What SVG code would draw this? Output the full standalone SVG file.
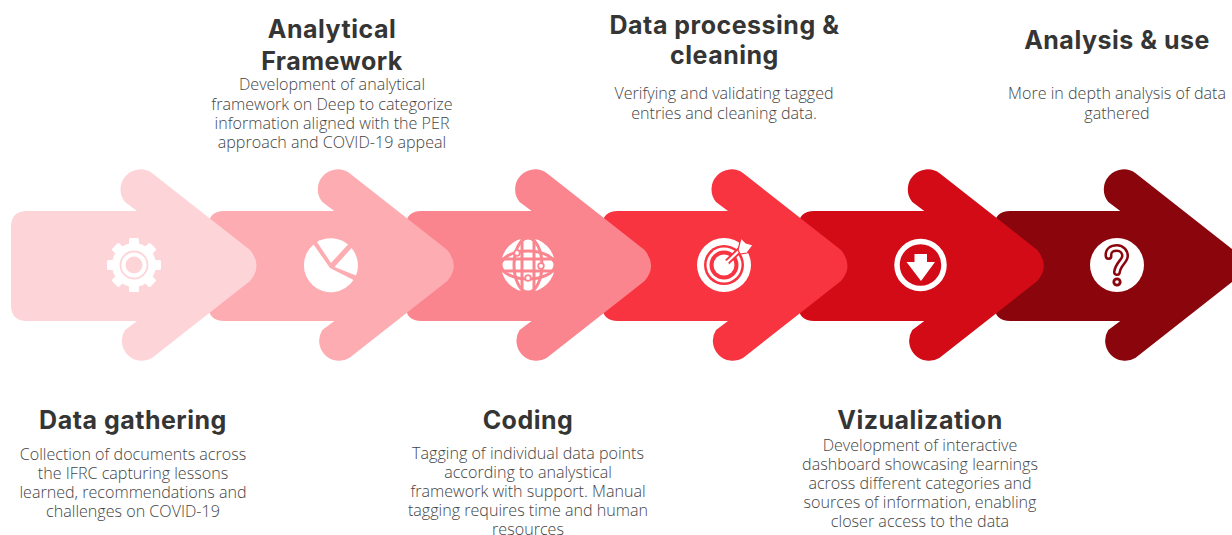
<svg xmlns="http://www.w3.org/2000/svg" width="1232" height="535" viewBox="0 0 1232 535">
<style>
.h{font-family:"Inter","Open Sans","Liberation Sans",sans-serif;font-weight:700;font-size:25px;letter-spacing:.5px;fill:#353535;text-anchor:middle}
.b{font-family:"Open Sans","Liberation Sans",sans-serif;font-weight:300;font-size:16.1px;fill:#444;text-anchor:middle}
</style>
<defs>
<path id="arrow" d="M27,211H137L125,202A20,20 0 0 1 152,173L250,250Q263,266 250,281L152,358A20,20 0 0 1 125,330L137,321H27Q11,321 11,305V227Q11,211 27,211Z"/>
</defs>
<rect width="1232" height="535" fill="#fff"/>
<g id="step-6"><use href="#arrow" x="983.3" fill="#8b060c"/>
<circle cx="1117" cy="265" r="27" fill="#fff"/>
<path d="M1108.5,256C1108,250 1112,248 1117,248C1122,248 1125,252 1125,256C1125,261 1118,264 1117,272" fill="none" stroke="#8b060c" stroke-width="8" stroke-linecap="round"/>
<path d="M1108.5,256C1108,250 1112,248 1117,248C1122,248 1125,252 1125,256C1125,261 1118,264 1117,272" fill="none" stroke="#fff" stroke-width="3" stroke-linecap="round"/>
<circle cx="1117" cy="282" r="3.2" fill="#fff" stroke="#8b060c" stroke-width="2.8"/>
<text class="h" x="1117" y="48.500">Analysis &amp; use</text>
<text class="b" x="1117" y="99">More in depth analysis of data</text>
<text class="b" x="1117" y="119">gathered</text>
</g>
<g id="step-5"><use href="#arrow" x="787.3" fill="#d20b17"/>
<circle cx="920.5" cy="265" r="23.5" fill="none" stroke="#fff" stroke-width="5.5"/>
<path d="M914.5,254H927V262H935L921,281L906.5,262H914.5Z" fill="#fff"/>
<text class="h" x="920" y="429">Vizualization</text>
<text class="b" x="920" y="450.5">Development of interactive</text>
<text class="b" x="920" y="469.5">dashboard showcasing learnings</text>
<text class="b" x="920" y="488.5">across different categories and</text>
<text class="b" x="920" y="507.5">sources of information, enabling</text>
<text class="b" x="920" y="526.5">closer access to the data</text>
</g>
<g id="step-4"><use href="#arrow" x="591" fill="#f73440"/>
<circle cx="724" cy="265" r="27" fill="#fff"/>
<circle cx="724" cy="265" r="20" fill="#f73440"/>
<circle cx="724" cy="265" r="17.5" fill="#fff"/>
<circle cx="724" cy="265" r="14.5" fill="#f73440"/>
<circle cx="724" cy="265" r="10.5" fill="#fff"/>
<path d="M724,265L743,247" stroke="#f73440" stroke-width="6" fill="none"/>
<path d="M724,265L743,247" stroke="#fff" stroke-width="2.2" fill="none"/>
<circle cx="724" cy="265" r="5" fill="#fff"/>
<path d="M738,250L741,238L746,243L753,245L747,253L740,254Z" fill="#fff" stroke="#f73440" stroke-width="1.2"/>
<text class="h" x="724.500" y="34">Data processing &amp;</text>
<text class="h" x="724.500" y="64">cleaning</text>
<text class="b" x="724" y="99">Verifying and validating tagged</text>
<text class="b" x="724" y="119">entries and cleaning data.</text>
</g>
<g id="step-3"><use href="#arrow" x="394.6" fill="#fa858e"/>
<circle cx="528" cy="265" r="27" fill="#fff"/>
<g fill="none" stroke="#fa858e" stroke-width="3">
<ellipse cx="528" cy="265" rx="27" ry="14"/>
<ellipse cx="528" cy="265" rx="14" ry="27"/>
<path d="M522,238V292M534,238V292M501,259H555M501,271H555"/>
</g>
<g fill="#fff" stroke="#fa858e" stroke-width="1.8">
<circle cx="517" cy="253" r="2.8"/><circle cx="541" cy="266" r="2.8"/><circle cx="528" cy="278" r="2.8"/>
</g>
<text class="h" x="528" y="429">Coding</text>
<text class="b" x="528" y="459">Tagging of individual data points</text>
<text class="b" x="528" y="478">according to analystical</text>
<text class="b" x="528" y="497">framework with support. Manual</text>
<text class="b" x="528" y="516">tagging requires time and human</text>
<text class="b" x="528" y="535">resources</text>
</g>
<g id="step-2"><use href="#arrow" x="197.3" fill="#fdacb2"/>
<g fill="#fff">
<path d="M330,268L353.5,280A27,27 0 1 1 313.6,244.5Z"/>
<path d="M331,263L348,244.5A27,27 0 0 0 317,242Z"/>
<path d="M334.5,267L351.5,248A27,27 0 0 1 356,275.5Z"/>
</g>
<text class="h" x="332" y="38">Analytical</text>
<text class="h" x="332" y="70">Framework</text>
<text class="b" x="332" y="90">Development of analytical</text>
<text class="b" x="332" y="110">framework on Deep to categorize</text>
<text class="b" x="332" y="129">information aligned with the PER</text>
<text class="b" x="332" y="148">approach and COVID-19 appeal</text>
</g>
<g id="step-1"><use href="#arrow" fill="#fdd5d9"/>
<g fill="#fff">
<circle cx="134" cy="265" r="22"/>
<rect x="129" y="238" width="10" height="54" rx="1.5"/>
<rect x="129" y="238" width="10" height="54" rx="1.5" transform="rotate(45 134 265)"/>
<rect x="129" y="238" width="10" height="54" rx="1.5" transform="rotate(90 134 265)"/>
<rect x="129" y="238" width="10" height="54" rx="1.5" transform="rotate(135 134 265)"/>
</g>
<circle cx="134" cy="265" r="13.5" fill="none" stroke="#fdd5d9" stroke-width="1.8"/>
<circle cx="134" cy="265" r="8.5" fill="#fdd5d9"/>
<text class="h" x="133" y="429">Data gathering</text>
<text class="b" x="133" y="459.5">Collection of documents across</text>
<text class="b" x="133" y="478.5">the IFRC capturing lessons</text>
<text class="b" x="133" y="497.5">learned, recommendations and</text>
<text class="b" x="133" y="516.5">challenges on COVID-19</text>
</g>
</svg>
